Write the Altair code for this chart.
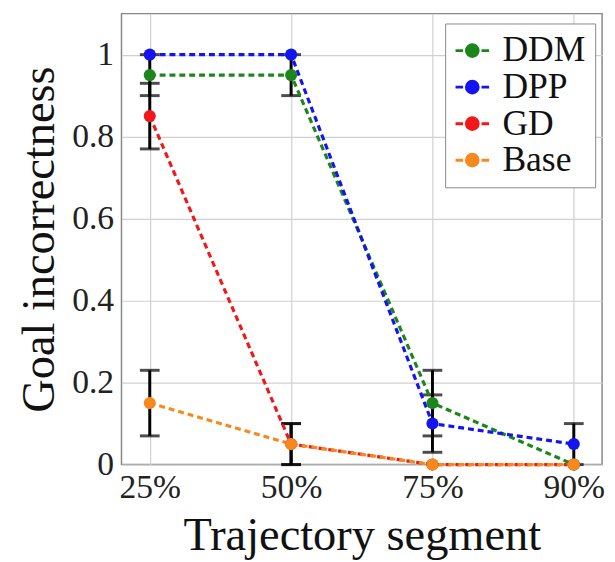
import altair as alt
import pandas as pd

segments = ["25%", "50%", "75%", "90%"]
methods = ["DDM", "DPP", "GD", "Base"]
ddm = [0.95, 0.95, 0.15, 0.0]
ddm_err = [0.05, 0.05, 0.08, 0.0]
dpp = [1.0, 1.0, 0.10, 0.05]
dpp_err = [0.0, 0.0, 0.07, 0.05]
gd = [0.85, 0.05, 0.0, 0.0]
gd_err = [0.08, 0.05, 0.0, 0.0]
base = [0.15, 0.05, 0.0, 0.0]
base_err = [0.08, 0.05, 0.0, 0.0]
colors = ["#1c861c", "#1414f0", "#f01818", "#f5891e"]

rows = []
for m, vals, errs in zip(methods, [ddm, dpp, gd, base], [ddm_err, dpp_err, gd_err, base_err]):
    for s, v, e in zip(segments, vals, errs):
        rows.append({"segment": s, "method": m, "value": v, "err": e,
                     "lo": v - e, "hi": v + e})
df = pd.DataFrame(rows)
err_df = df[df["err"] > 0]

FONT = "Liberation Serif"

x_enc = alt.X("segment:N", sort=segments,
              scale=alt.Scale(type="point", padding=0.2),
              axis=alt.Axis(title="Trajectory segment", labelAngle=0,
                            grid=True, ticks=False, domain=False,
                            labelFont=FONT, titleFont=FONT,
                            labelPadding=6, titlePadding=9))
y_scale = alt.Scale(domain=[0, 1.1], nice=False)
y_axis = alt.Axis(title="Goal incorrectness", values=[0, 0.2, 0.4, 0.6, 0.8, 1],
                  format="~g", grid=True, ticks=False, domain=False,
                  labelFont=FONT, titleFont=FONT,
                  labelPadding=8, titlePadding=8)
color = alt.Color("method:N", sort=methods,
                  scale=alt.Scale(domain=methods, range=colors),
                  legend=alt.Legend(title=None, orient="none", legendX=328, legendY=10,
                                    labelFont=FONT))

base_chart = alt.Chart(df)

rules = alt.Chart(err_df).mark_rule(color="black", strokeWidth=3).encode(
    x=x_enc, y=alt.Y("lo:Q", scale=y_scale, axis=y_axis), y2="hi:Q")
cap_lo = alt.Chart(err_df).mark_tick(color="black", thickness=3, size=20).encode(
    x=alt.X("segment:N", sort=segments), y="lo:Q")
cap_hi = alt.Chart(err_df).mark_tick(color="black", thickness=3, size=20).encode(
    x=alt.X("segment:N", sort=segments), y="hi:Q")

lines = base_chart.mark_line(strokeWidth=3.2, strokeDash=[6, 4]).encode(
    x=alt.X("segment:N", sort=segments),
    y=alt.Y("value:Q", scale=y_scale, axis=y_axis),
    color=color, detail="method:N")
points = base_chart.mark_point(filled=True, size=150, opacity=1, shape="circle").encode(
    x=alt.X("segment:N", sort=segments),
    y=alt.Y("value:Q", scale=y_scale, axis=y_axis),
    color=color)

chart = alt.layer(rules, cap_lo, cap_hi, lines, points).properties(
    width=487, height=457,
    autosize=alt.AutoSizeParams(type="none"),
    padding={"left": 115, "top": 2, "right": 5, "bottom": 94},
).configure(
    font=FONT
).configure_view(
    stroke="#888888", strokeWidth=1.5
).configure_axis(
    labelFontSize=34, titleFontSize=47,
    labelColor="#222222", titleColor="#111111", titleFontWeight="normal",
    gridColor="#d0d0d0", gridWidth=1.2
).configure_legend(
    labelFontSize=36, labelColor="#111111",
    fillColor="white", strokeColor="#888888", padding=9,
    symbolType="M-1,0L-0.55,0M0.55,0L1,0M-0.35,0A0.35,0.35,0,1,1,0.35,0A0.35,0.35,0,1,1,-0.35,0Z",
    symbolSize=1156, symbolStrokeWidth=3, rowPadding=0, labelOffset=12,
    symbolOpacity=1
)

chart.save("out.html", embed_options={"renderer": "svg", "actions": False})
